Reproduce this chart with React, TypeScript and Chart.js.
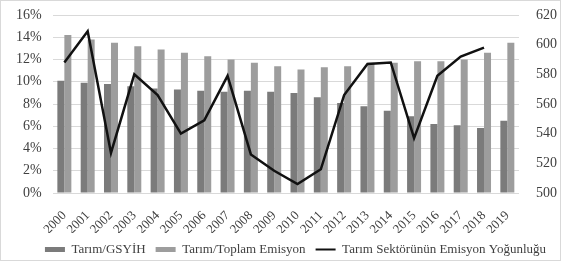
import React, { useEffect, useRef } from "react";
import { Chart, registerables } from "chart.js";

Chart.register(...registerables);

const years = ["2000","2001","2002","2003","2004","2005","2006","2007","2008","2009","2010","2011","2012","2013","2014","2015","2016","2017","2018","2019"];
const tarimGsyih = [10.1, 9.9, 9.8, 9.6, 9.4, 9.3, 9.2, 9.1, 9.2, 9.1, 9.0, 8.6, 8.1, 7.8, 7.4, 6.9, 6.2, 6.1, 5.85, 6.5];
const tarimToplamEmisyon = [14.2, 13.8, 13.5, 13.2, 12.9, 12.6, 12.3, 12.0, 11.7, 11.4, 11.1, 11.3, 11.4, 11.7, 11.7, 11.85, 11.85, 12.0, 12.6, 13.5];
const emisyonYogunlugu: (number | null)[] = [588, 609, 527, 580, 566, 540, 549, 579, 526, 515, 506, 516, 566, 587, 588, 537, 579, 592, 598, null];
const leftTicks = [0, 2, 4, 6, 8, 10, 12, 14, 16];
const rightTicks = [500, 520, 540, 560, 580, 600, 620];

const labelsText = ["Tarım/GSYİH", "Tarım/Toplam Emisyon", "Tarım Sektörünün Emisyon Yoğunluğu"];

const shiftLegend = {
  id: "shiftLegend",
  afterLayout(chart: any) {
    const lg = chart.legend;
    if (lg) {
      lg.left += 6;
      lg.right += 6;
    }
  },
};

export default function App() {
  const ref = useRef<HTMLCanvasElement>(null);
  useEffect(() => {
    document.body.style.margin = "0";
    const ctx = ref.current!;
    const family = "'Liberation Serif', 'DejaVu Serif', serif";
    const font = { family, size: 14 };
    const chart = new Chart(ctx, {
      plugins: [shiftLegend],
      data: {
        labels: years,
        datasets: [
          { type: "bar", label: labelsText[0], data: tarimGsyih, backgroundColor: "#7b7b7b", yAxisID: "y", categoryPercentage: 0.6, barPercentage: 1.0, order: 2 },
          { type: "bar", label: labelsText[1], data: tarimToplamEmisyon, backgroundColor: "#9d9d9d", yAxisID: "y", categoryPercentage: 0.6, barPercentage: 1.0, order: 2 },
          { type: "line", label: labelsText[2], data: emisyonYogunlugu, borderColor: "#111111", borderWidth: 2.5, pointRadius: 0, tension: 0, yAxisID: "y1", order: 1 },
        ],
      },
      options: {
        animation: false,
        responsive: false,
        maintainAspectRatio: false,
        layout: { padding: { left: 4, right: -14, top: 14, bottom: -6 } },
        plugins: {
          tooltip: { enabled: false },
          legend: {
            position: "bottom",
            labels: {
              font: { family, size: 13 },
              color: "#404040",
              boxWidth: 20,
              boxHeight: 5,
              padding: 10,
              usePointStyle: true,
              pointStyleWidth: 20,
              generateLabels: () => [
                { text: labelsText[0], fillStyle: "#7b7b7b", strokeStyle: "#7b7b7b", lineWidth: 0, pointStyle: "rect", datasetIndex: 0, hidden: false, fontColor: "#404040" },
                { text: labelsText[1], fillStyle: "#9d9d9d", strokeStyle: "#9d9d9d", lineWidth: 0, pointStyle: "rect", datasetIndex: 1, hidden: false, fontColor: "#404040" },
                { text: labelsText[2], fillStyle: "#111111", strokeStyle: "#111111", lineWidth: 2, pointStyle: "line", datasetIndex: 2, hidden: false, fontColor: "#404040" },
              ] as any,
            },
          },
        },
        scales: {
          x: {
            grid: { display: false },
            border: { display: false },
            afterFit: (axis: any) => { axis.height = 40; },
            ticks: { font: { family, size: 13 }, color: "#404040", minRotation: 45, maxRotation: 45, autoSkip: false, padding: 7 },
          },
          y: {
            position: "left", min: 0, max: 16,
            afterBuildTicks: (axis: any) => { axis.ticks = leftTicks.map((v) => ({ value: v })); },
            afterFit: (axis: any) => { axis.width = 47.7; },
            ticks: { font, color: "#404040", callback: (v: any) => v + "%", padding: 3 },
            grid: { color: "#d9d9d9", drawTicks: true, tickLength: 8, tickColor: "rgba(0,0,0,0)" },
            border: { display: false },
          },
          y1: {
            position: "right", min: 500, max: 620,
            afterBuildTicks: (axis: any) => { axis.ticks = rightTicks.map((v) => ({ value: v })); },
            afterFit: (axis: any) => { axis.width = 55; },
            ticks: { font, color: "#404040", padding: 3 },
            grid: { display: true, drawOnChartArea: false, drawTicks: true, tickLength: 14, tickColor: "rgba(0,0,0,0)", color: "rgba(0,0,0,0)" },
            border: { display: false },
          },
        },
      },
    });
    return () => chart.destroy();
  }, []);
  return (
    <div style={{ position: "fixed", left: 0, top: 0, width: 561, height: 261, background: "#fff", boxSizing: "border-box", border: "1px solid #d9d9d9" }}>
      <canvas ref={ref} width={559} height={259} style={{ display: "block" }} />
    </div>
  );
}
